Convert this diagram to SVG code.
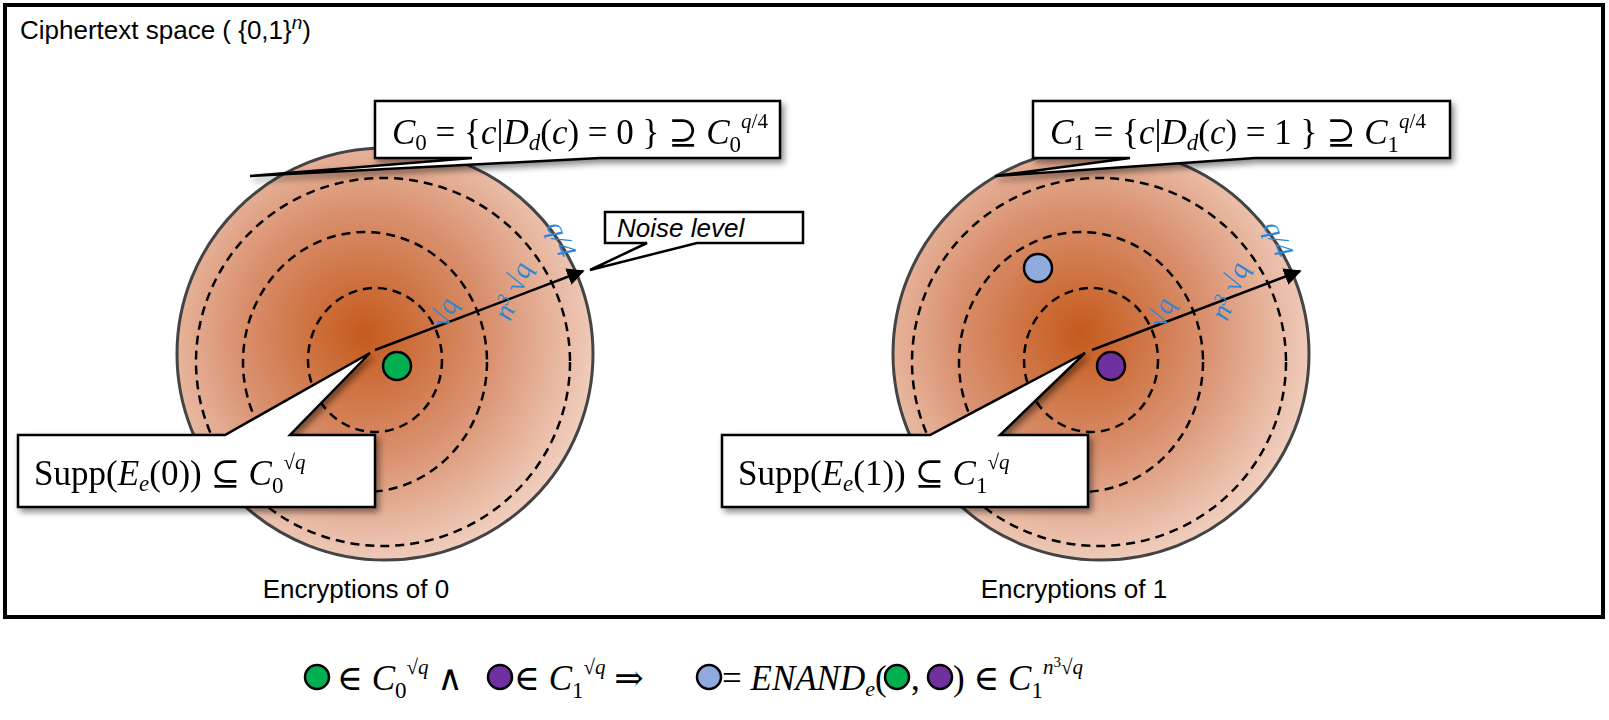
<svg xmlns="http://www.w3.org/2000/svg" width="1609" height="720" viewBox="0 0 1609 720">
<style>
.s{font-family:"Liberation Sans",Arial,sans-serif;font-size:26px;fill:#000}
.m{font-family:"Liberation Serif","DejaVu Serif",serif;font-size:35px;fill:#000}
.i{font-style:italic}
.b{font-family:"Liberation Serif",serif;font-size:28px;fill:#2e86d4;font-style:italic}
.ring{fill:none;stroke:#000;stroke-width:2.5;stroke-dasharray:9 6}
.co{fill:#fff;stroke:#000;stroke-width:2.5}
</style>
<defs>
<radialGradient id="g" cx="0.45" cy="0.45" r="0.6">
<stop offset="0" stop-color="#c55a1c"/>
<stop offset="0.5" stop-color="#d9906e"/>
<stop offset="1" stop-color="#f3d6c8"/>
</radialGradient>
<marker id="ah" viewBox="0 0 10 10" refX="9" refY="5" markerWidth="7" markerHeight="7" orient="auto"><path d="M0,0L10,5L0,10z" fill="#000"/></marker>
<filter id="sh" x="-10%" y="-10%" width="130%" height="140%"><feDropShadow dx="3" dy="4" stdDeviation="3" flood-opacity="0.45"/></filter>
</defs>
<rect x="5" y="5" width="1598" height="612" fill="#fff" stroke="#000" stroke-width="4"/>
<text class="s" x="20" y="39">Ciphertext space ( {0,1}<tspan class="i" dy="-10" font-size="19">n</tspan><tspan dy="10">)</tspan></text>

<g id="set0">
<ellipse cx="385" cy="354" rx="208" ry="206" fill="url(#g)" stroke="#444" stroke-width="3"/>
<ellipse class="ring" cx="375" cy="360" rx="67" ry="72"/>
<ellipse class="ring" cx="365" cy="362" rx="122" ry="130"/>
<ellipse class="ring" cx="383" cy="362" rx="187" ry="184"/>
<text class="s" x="356" y="598" text-anchor="middle">Encryptions of 0</text>
</g>
<g id="set1">
<ellipse cx="1101" cy="354" rx="208" ry="206" fill="url(#g)" stroke="#444" stroke-width="3"/>
<ellipse class="ring" cx="1091" cy="360" rx="67" ry="72"/>
<ellipse class="ring" cx="1081" cy="362" rx="122" ry="130"/>
<ellipse class="ring" cx="1099" cy="362" rx="187" ry="184"/>
<text class="s" x="1074" y="598" text-anchor="middle">Encryptions of 1</text>
</g>

<g id="connectors">
<line x1="375" y1="350" x2="583" y2="271" stroke="#000" stroke-width="2.5" marker-end="url(#ah)"/>
<line x1="1092" y1="350" x2="1300" y2="271" stroke="#000" stroke-width="2.5" marker-end="url(#ah)"/>
</g>

<g id="labels0">
<text class="b" transform="translate(447,330) rotate(-68)">√q</text>
<text class="b" transform="translate(510,322) rotate(-68)">n<tspan dy="-9" font-size="18">3</tspan><tspan dy="9"> √q</tspan></text>
<text class="b" transform="translate(546,226) rotate(68)">q/4</text>
</g>
<g id="labels1">
<text class="b" transform="translate(1164,330) rotate(-68)">√q</text>
<text class="b" transform="translate(1227,322) rotate(-68)">n<tspan dy="-9" font-size="18">3</tspan><tspan dy="9"> √q</tspan></text>
<text class="b" transform="translate(1263,226) rotate(68)">q/4</text>
</g>

<g id="dots">
<circle cx="397" cy="366" r="14" fill="#00b050" stroke="#000" stroke-width="2.5"/>
<circle cx="1111" cy="366" r="14" fill="#7030a0" stroke="#000" stroke-width="2.5"/>
<circle cx="1038" cy="268" r="14" fill="#8faadc" stroke="#000" stroke-width="2.5"/>
</g>

<g id="callout-c0" filter="url(#sh)">
<path class="co" d="M375,101H780V158H600L250,176L472,158H375Z"/>
<text class="m" x="392" y="144"><tspan class="i">C</tspan><tspan font-size="23" dy="6">0</tspan><tspan dy="-6"> = {</tspan><tspan class="i">c</tspan>|<tspan class="i">D</tspan><tspan class="i" font-size="23" dy="6">d</tspan><tspan dy="-6">(</tspan><tspan class="i">c</tspan>) = 0 }  ⊇ <tspan class="i">C</tspan><tspan font-size="23" dy="8">0</tspan><tspan class="i" font-size="21" dy="-24">q</tspan><tspan font-size="21">/4</tspan></text>
</g>
<g id="callout-c1" filter="url(#sh)">
<path class="co" d="M1033,101H1450V158H1255L995,176L1130,158H1033Z"/>
<text class="m" x="1050" y="144"><tspan class="i">C</tspan><tspan font-size="23" dy="6">1</tspan><tspan dy="-6"> = {</tspan><tspan class="i">c</tspan>|<tspan class="i">D</tspan><tspan class="i" font-size="23" dy="6">d</tspan><tspan dy="-6">(</tspan><tspan class="i">c</tspan>) = 1 }  ⊇ <tspan class="i">C</tspan><tspan font-size="23" dy="8">1</tspan><tspan class="i" font-size="21" dy="-24">q</tspan><tspan font-size="21">/4</tspan></text>
</g>
<g id="callout-noise">
<path class="co" d="M605,212H803V243H697L590,270L647,243H605Z" stroke-width="2"/>
<text class="s i" x="617" y="237" font-size="25">Noise level</text>
</g>
<g id="callout-s0" filter="url(#sh)">
<path class="co" d="M18,435H225L370,353L290,435H375V507H18Z"/>
<text class="m" x="34" y="485">Supp(<tspan class="i">E</tspan><tspan class="i" font-size="23" dy="6">e</tspan><tspan dy="-6">(0)) ⊆ </tspan><tspan class="i">C</tspan><tspan font-size="23" dy="8">0</tspan><tspan font-size="21" dy="-24">√<tspan class="i">q</tspan></tspan></text>
</g>
<g id="callout-s1" filter="url(#sh)">
<path class="co" d="M722,435H930L1085,353L1000,435H1088V507H722Z"/>
<text class="m" x="738" y="485">Supp(<tspan class="i">E</tspan><tspan class="i" font-size="23" dy="6">e</tspan><tspan dy="-6">(1)) ⊆ </tspan><tspan class="i">C</tspan><tspan font-size="23" dy="8">1</tspan><tspan font-size="21" dy="-24">√<tspan class="i">q</tspan></tspan></text>
</g>

<g id="legend">
<circle cx="317" cy="677" r="12" fill="#00b050" stroke="#000" stroke-width="2.5"/>
<circle cx="500" cy="677" r="12" fill="#7030a0" stroke="#000" stroke-width="2.5"/>
<circle cx="709" cy="677" r="12" fill="#8faadc" stroke="#000" stroke-width="2.5"/>
<circle cx="897" cy="677" r="12" fill="#00b050" stroke="#000" stroke-width="2.5"/>
<circle cx="940" cy="677" r="12" fill="#7030a0" stroke="#000" stroke-width="2.5"/>
<text class="m" x="337" y="690">∈ <tspan class="i">C</tspan><tspan font-size="23" dy="8">0</tspan><tspan font-size="21" dy="-24">√<tspan class="i">q</tspan></tspan><tspan dy="16"> ∧</tspan></text>
<text class="m" x="514" y="690">∈ <tspan class="i">C</tspan><tspan font-size="23" dy="8">1</tspan><tspan font-size="21" dy="-24">√<tspan class="i">q</tspan></tspan><tspan dy="16">   ⇒</tspan></text>
<text class="m" x="722" y="690" font-size="33">= <tspan class="i">ENAND</tspan><tspan class="i" font-size="22" dy="6">e</tspan><tspan dy="-6">(</tspan></text>
<text class="m" x="911" y="690">,</text>
<text class="m" x="953" y="690">) ∈ <tspan class="i">C</tspan><tspan font-size="23" dy="8">1</tspan><tspan class="i" font-size="21" dy="-24">n</tspan><tspan font-size="15" dy="-7">3</tspan><tspan font-size="21" dy="7">√<tspan class="i">q</tspan></tspan></text>
</g>
</svg>
